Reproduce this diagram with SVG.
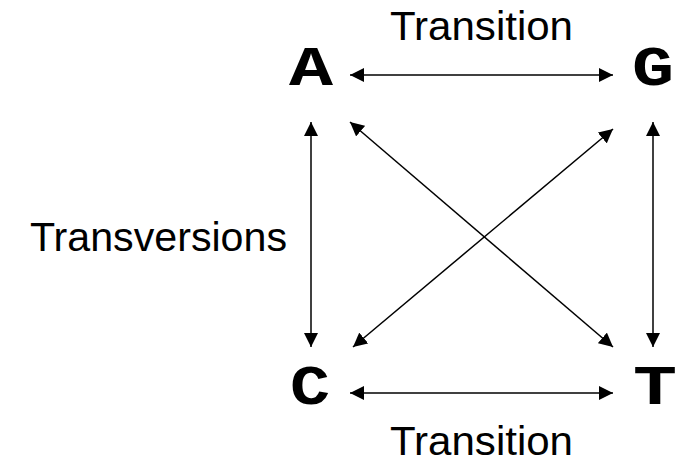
<svg xmlns="http://www.w3.org/2000/svg" width="682" height="462" viewBox="0 0 682 462">
<style>
.lbl{font-family:"Liberation Sans",Arial,sans-serif;font-size:40px;fill:#000}
.base{font-family:"Liberation Mono","Courier New",monospace;font-weight:bold;font-size:56px;fill:#000;text-anchor:middle}
.c{stroke:#000;stroke-width:1.5;fill:none;marker-start:url(#ah);marker-end:url(#ah)}
</style>
<defs>
<marker id="ah" markerUnits="userSpaceOnUse" markerWidth="14" markerHeight="14" viewBox="0 0 14 14" refX="14" refY="7" orient="auto-start-reverse">
<path d="M0,0 L14,7 L0,14 Z" fill="#000"/>
</marker>
</defs>
<rect width="682" height="462" fill="#fff"/>
<g id="connectors">
<line class="c" x1="350" y1="75" x2="613" y2="75"/>
<line class="c" x1="350" y1="393" x2="613" y2="393"/>
<line class="c" x1="311" y1="122" x2="311" y2="347"/>
<line class="c" x1="653" y1="122" x2="653" y2="347"/>
<line class="c" x1="350" y1="122" x2="613" y2="347"/>
<line class="c" x1="353" y1="347" x2="613" y2="129"/>
</g>
<g id="node-A"><text class="base" x="311" y="85" textLength="44" lengthAdjust="spacingAndGlyphs">A</text></g>
<g id="node-G"><text class="base" x="653" y="85" textLength="42" lengthAdjust="spacingAndGlyphs">G</text></g>
<g id="node-C"><text class="base" x="310" y="404" textLength="40" lengthAdjust="spacingAndGlyphs">C</text></g>
<g id="node-T"><text class="base" x="655" y="404" textLength="44" lengthAdjust="spacingAndGlyphs">T</text></g>
<g id="labels">
<text class="lbl" x="390" y="40" textLength="183" lengthAdjust="spacingAndGlyphs">Transition</text>
<text class="lbl" x="390" y="455" textLength="183" lengthAdjust="spacingAndGlyphs">Transition</text>
<text class="lbl" x="30" y="251" textLength="257" lengthAdjust="spacingAndGlyphs">Transversions</text>
</g>
</svg>
